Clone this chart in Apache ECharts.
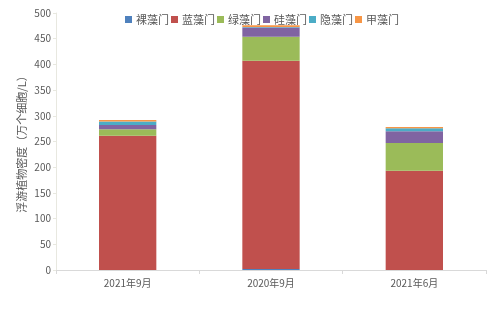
<!DOCTYPE html>
<html>
<head>
<meta charset="utf-8">
<script src="https://cdn.jsdelivr.net/npm/echarts@6/dist/echarts.min.js"></script>
<style>html,body{margin:0;padding:0;background:#fff}#c{width:500px;height:327px}</style>
</head>
<body>
<div id="c"></div>
<script>
// Phytoplankton density by phylum, stacked per sampling period
const categories = ['2021年9月', '2020年9月', '2021年6月'];
const seriesNames = ['裸藻门', '蓝藻门', '绿藻门', '硅藻门', '隐藻门', '甲藻门'];
const euglenophyta = [0, 2, 0];
const cyanophyta = [261, 405, 193];
const chlorophyta = [13, 47, 54];
const bacillariophyta = [8, 18, 23];
const cryptophyta = [7, 1, 6];
const pyrrophyta = [3, 3, 2];
const colors = ['#4F81BD', '#C0504D', '#9BBB59', '#8064A2', '#4BACC6', '#F79646'];
const yTicks = { min: 0, max: 500, interval: 50 };

const values = [euglenophyta, cyanophyta, chlorophyta, bacillariophyta, cryptophyta, pyrrophyta];

const chart = echarts.init(document.getElementById('c'));
chart.setOption({
  animation: false,
  textStyle: { fontFamily: '"Noto Sans CJK SC", "DejaVu Sans", sans-serif' },
  legend: {
    top: 9,
    left: 120,
    itemWidth: 7,
    itemHeight: 7,
    itemGap: 2,
    icon: 'rect',
    textStyle: { fontSize: 11, color: '#595959', padding: [0, 0, 0, -1] },
    data: seriesNames
  },
  grid: { left: 56, right: 14, top: 13, bottom: 57 },
  xAxis: {
    type: 'category',
    data: categories,
    axisLine: { lineStyle: { color: '#d9d9d9' } },
    axisTick: { show: true, length: 4, lineStyle: { color: '#d9d9d9' } },
    axisLabel: { fontSize: 10, color: '#595959', margin: 8 }
  },
  yAxis: {
    type: 'value',
    min: yTicks.min,
    max: yTicks.max,
    interval: yTicks.interval,
    name: '浮游植物密度（万个细胞/L）',
    nameLocation: 'middle',
    nameGap: 29,
    nameMoveOverlap: false,
    nameTextStyle: { fontSize: 11, color: '#595959' },
    axisLine: { show: true, lineStyle: { color: '#e8e8e0' } },
    axisTick: { show: true, length: 3, lineStyle: { color: '#e8e8e0' } },
    splitLine: { show: false },
    axisLabel: { fontSize: 10, color: '#595959', margin: 5 }
  },
  series: seriesNames.map((name, i) => ({
    name,
    type: 'bar',
    stack: 'total',
    barWidth: '40%',
    itemStyle: { color: colors[i] },
    data: values[i]
  }))
});
</script>
</body>
</html>
